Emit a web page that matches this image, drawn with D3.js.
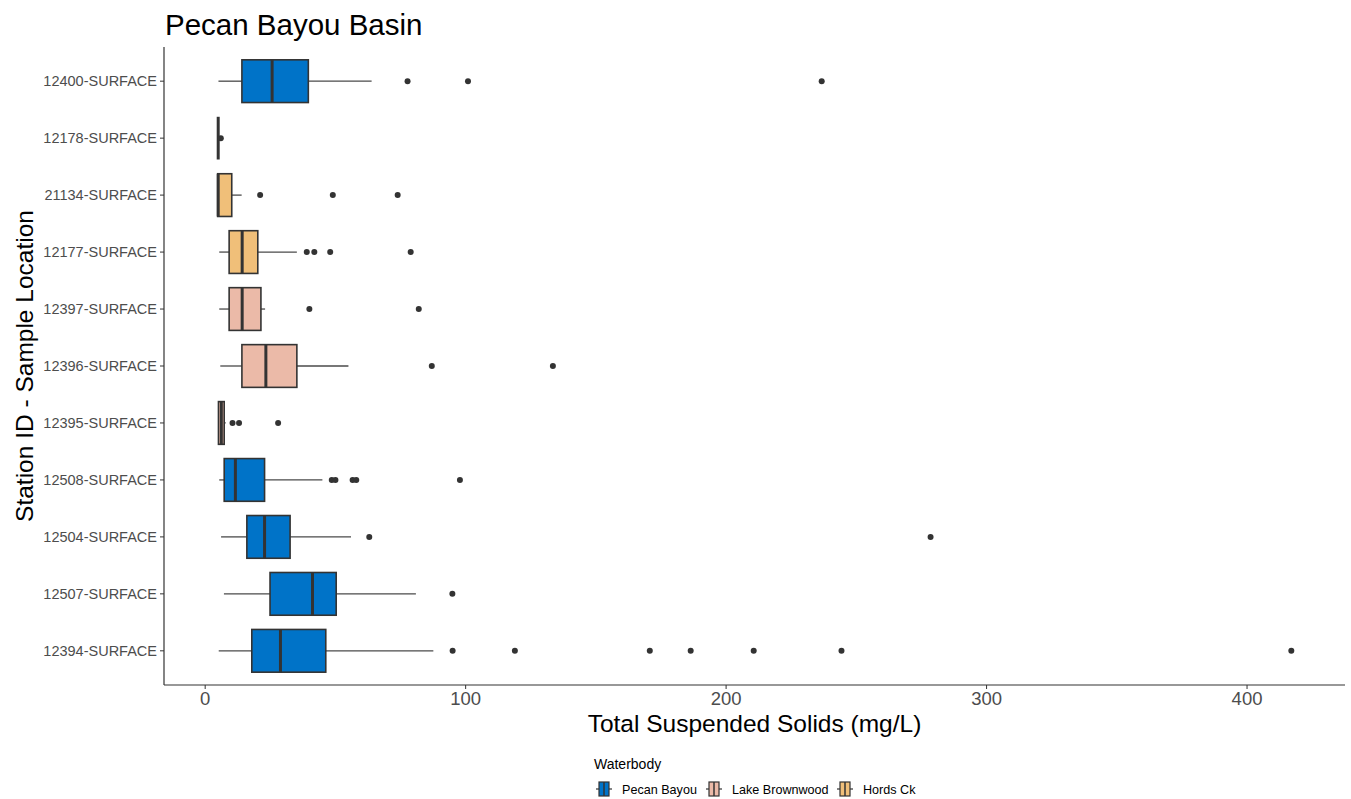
<!DOCTYPE html>
<meta charset="utf-8">
<title>Pecan Bayou Basin</title>
<style>
    body { margin: 0; background: #fff; }
    text { font-family: Arial, "Liberation Sans", sans-serif; }
</style>
<script src="https://d3js.org/d3.v7.js"></script>
<body>
<script>
    // box statistics (mg/L)
    const stations = ["12400-SURFACE", "12178-SURFACE", "21134-SURFACE", "12177-SURFACE", "12397-SURFACE",
        "12396-SURFACE", "12395-SURFACE", "12508-SURFACE", "12504-SURFACE", "12507-SURFACE", "12394-SURFACE"];
    const waterbody = ["Pecan Bayou", "Hords Ck", "Hords Ck", "Hords Ck", "Lake Brownwood",
        "Lake Brownwood", "Lake Brownwood", "Pecan Bayou", "Pecan Bayou", "Pecan Bayou", "Pecan Bayou"];
    const whiskLow = [5.1, 5, 4.8, 5.4, 5.4, 5.8, 5.1, 5.4, 6.1, 7.2, 5.2];
    const q1 =       [14.1, 5, 4.8, 9.2, 9.2, 14.1, 5.1, 7.3, 16, 24.9, 17.9];
    const median =   [25.7, 5, 5, 14.2, 14.2, 23.3, 6.2, 11.6, 22.8, 41.2, 28.9];
    const q3 =       [39.6, 5, 10.2, 20.2, 21.4, 35.2, 7.3, 22.8, 32.6, 50.3, 46.3];
    const whiskHigh = [63.9, 5, 14, 35.2, 23, 55, 7.9, 45, 56, 80.9, 87.6];
    const outliers = [
        [77.7, 100.9, 236.7],
        [6],
        [21.1, 49, 73.9],
        [39, 41.9, 48, 78.9],
        [40, 82],
        [87, 133.5],
        [10.5, 13, 28],
        [48.6, 50, 56.6, 58, 97.8],
        [63, 278.5],
        [94.9],
        [95, 118.9, 170.7, 186.4, 210.6, 244.3, 417]
    ];
    const xTicks = [0, 100, 200, 300, 400];
    const groups = ["Pecan Bayou", "Lake Brownwood", "Hords Ck"];
    const groupColors = ["#0073c8", "#ebbaa8", "#f0bf79"];

    const W = 1351, H = 799;
    const margin = {top: 47, right: 6, bottom: 114, left: 164};
    const pw = W - margin.left - margin.right,
        ph = H - margin.top - margin.bottom;

    const svg = d3.select("body").append("svg")
        .attr("width", W)
        .attr("height", H);

    const g = svg.append("g")
        .attr("transform", `translate(${margin.left},${margin.top})`);

    // x range padded 5% like ggplot
    const lo = d3.min(whiskLow), hi = d3.max(outliers.flat());
    const pad = (hi - lo) * 0.05;
    const x = d3.scaleLinear()
        .domain([lo - pad, hi + pad])
        .range([0, pw]);

    // discrete y with 0.6 expansion
    const step = ph / (stations.length - 1 + 1.2);
    const y = d => step * 0.6 + stations.indexOf(d) * step;
    const boxH = step * 0.75;

    const color = d3.scaleOrdinal().domain(groups).range(groupColors);

    // axes
    g.append("line")
        .attr("x1", 0).attr("x2", 0).attr("y1", 0).attr("y2", ph)
        .attr("stroke", "#333").attr("stroke-width", 1.2);
    g.append("line")
        .attr("x1", 0).attr("x2", pw).attr("y1", ph).attr("y2", ph)
        .attr("stroke", "#333").attr("stroke-width", 1.2);

    const xt = g.selectAll(".xt").data(xTicks).join("g")
        .attr("transform", d => `translate(${x(d)},${ph})`);
    xt.append("line").attr("y2", 4).attr("stroke", "#333").attr("stroke-width", 1);
    xt.append("text")
        .attr("y", 20)
        .attr("text-anchor", "middle")
        .style("font-size", "18.5px")
        .attr("fill", "#4d4d4d")
        .text(d => d);

    const yt = g.selectAll(".yt").data(stations).join("g")
        .attr("transform", d => `translate(0,${y(d)})`);
    yt.append("line").attr("x2", -4).attr("stroke", "#333").attr("stroke-width", 1);
    yt.append("text")
        .attr("x", -7)
        .attr("dy", "0.36em")
        .attr("text-anchor", "end")
        .style("font-size", "14.5px")
        .attr("fill", "#4d4d4d")
        .text(d => d);

    // boxes
    const rows = stations.map((s, i) => ({
        s, wb: waterbody[i], lo: whiskLow[i], q1: q1[i], med: median[i], q3: q3[i], hi: whiskHigh[i], out: outliers[i]
    }));

    const box = g.selectAll(".box").data(rows).join("g")
        .attr("transform", d => `translate(0,${y(d.s)})`);

    box.append("line")
        .attr("x1", d => x(d.lo)).attr("x2", d => x(d.q1))
        .attr("stroke", "#4a4a4a").attr("stroke-width", 1.3);
    box.append("line")
        .attr("x1", d => x(d.q3)).attr("x2", d => x(d.hi))
        .attr("stroke", "#4a4a4a").attr("stroke-width", 1.3);
    box.append("rect")
        .attr("x", d => x(d.q1))
        .attr("y", -boxH / 2)
        .attr("width", d => x(d.q3) - x(d.q1))
        .attr("height", boxH)
        .attr("fill", d => color(d.wb))
        .attr("stroke", "#333").attr("stroke-width", 1.6);
    box.append("line")
        .attr("x1", d => x(d.med)).attr("x2", d => x(d.med))
        .attr("y1", -boxH / 2).attr("y2", boxH / 2)
        .attr("stroke", "#333").attr("stroke-width", 3);
    box.selectAll("circle").data(d => d.out).join("circle")
        .attr("cx", d => x(d))
        .attr("r", 3)
        .attr("fill", "#333");

    // titles
    svg.append("text")
        .attr("x", 165).attr("y", 35)
        .style("font-size", "29.5px")
        .attr("fill", "#000")
        .text("Pecan Bayou Basin");

    svg.append("text")
        .attr("x", margin.left + pw / 2).attr("y", 732)
        .attr("text-anchor", "middle")
        .style("font-size", "24.5px")
        .text("Total Suspended Solids (mg/L)");

    svg.append("text")
        .attr("transform", `translate(33,${margin.top + ph / 2}) rotate(-90)`)
        .attr("text-anchor", "middle")
        .style("font-size", "24.5px")
        .text("Station ID - Sample Location");

    // legend
    svg.append("text")
        .attr("x", 594).attr("y", 769)
        .style("font-size", "14px")
        .text("Waterbody");

    const legX = [604, 714, 845];
    const leg = svg.selectAll(".leg").data(groups).join("g")
        .attr("transform", (d, i) => `translate(${legX[i]},789)`);
    leg.append("line").attr("x1", -8).attr("x2", 8).attr("stroke", "#333").attr("stroke-width", 1.2);
    leg.append("rect")
        .attr("x", -5).attr("y", -7).attr("width", 10).attr("height", 14)
        .attr("fill", d => color(d)).attr("stroke", "#333").attr("stroke-width", 1.2);
    leg.append("line").attr("y1", -7).attr("y2", 7).attr("stroke", "#333").attr("stroke-width", 1.5);
    leg.append("text")
        .attr("x", 18).attr("dy", "0.36em")
        .style("font-size", "12.6px")
        .text(d => d);
</script>
</body>
